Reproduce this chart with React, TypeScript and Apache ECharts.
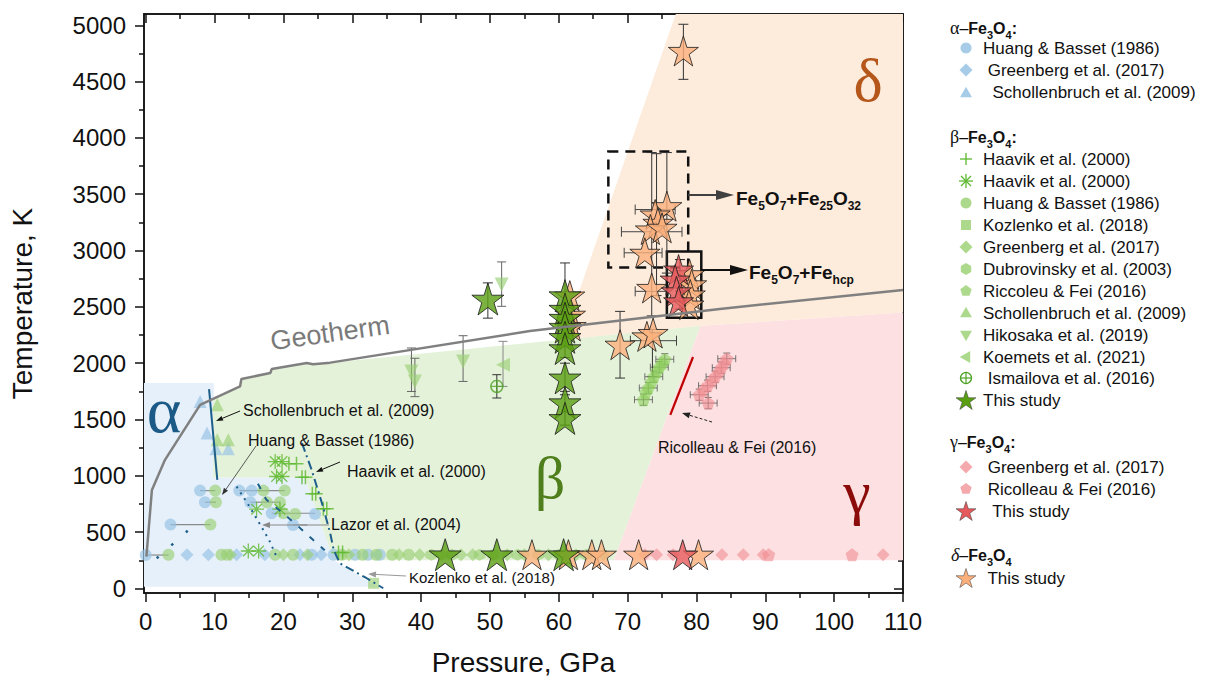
import React, { useEffect, useRef } from "react";
import * as echarts from "echarts";

// ---------------- ticks ----------------
const X_MAJOR = [0, 10, 20, 30, 40, 50, 60, 70, 80, 90, 100, 110];
const X_MINOR = [5, 15, 25, 35, 45, 55, 65, 75, 85, 95, 105];
const Y_MAJOR = [0, 500, 1000, 1500, 2000, 2500, 3000, 3500, 4000, 4500, 5000];
const Y_MINOR = [250, 750, 1250, 1750, 2250, 2750, 3250, 3750, 4250, 4750];

// ---------------- phase regions (P GPa, T K) ----------------
const ALPHA_REGION = [[-0.25, 15], [-0.25, 1824], [9.9, 1824], [9.9, 985], [23.1, 985], [27.3, 253], [33.6, 15]];
const BETA_REGION = [[9.8, 985], [9.8, 1684], [13.7, 1794], [13.9, 1860], [18.1, 1913], [18.3, 1948], [23.4, 2002], [24.3, 1990], [26.8, 2005], [80.6, 2332], [68.0, 250], [27.3, 250], [23.1, 985]];
const GAMMA_REGION = [[68.0, 250], [80.6, 2332], [110, 2450], [110, 250]];
const DELTA_REGION = [[60.5, 2209], [77.0, 5100], [110, 5100], [110, 2450], [80.6, 2332]];

// ---------------- lines ----------------
const GEOTHERM = [[0.1, 283], [0.9, 875], [2.8, 1142], [7.9, 1630], [13.7, 1794], [13.9, 1860], [18.1, 1913], [18.3, 1948], [23.4, 2002], [24.3, 1990], [26.8, 2005], [55.8, 2285], [83.4, 2482], [110, 2650]];
const SCHOLL_LINE = [[9.2, 1770], [10.4, 964]];
const HAAVIK_LINE = [[22.7, 1291], [24.1, 1053], [25.6, 757], [26.8, 491], [27.3, 343], [28.2, 224], [32.1, 91], [34.5, 2]];
const LAZOR_LINE = [[13.2, 905], [15.0, 735], [16.7, 560], [18.0, 420], [19.0, 283]];
const HUANG_LINE = [[16.3, 930], [17.5, 790], [20.3, 650], [22.0, 560], [24.3, 432], [26.0, 340]];
const SPARSE_LINE = [[1.6, 268], [7.6, 594]];
const RICOLLEAU_LINE = [[79.5, 2055], [76.2, 1542]];
// horizontal tie lines [Pmin, Pmax, T]
const TIE_LINES = [[0, 3.3, 297], [3.6, 9.4, 567], [7.9, 10.1, 869], [8.6, 10.2, 766], [13.6, 20.2, 869], [15.2, 19.5, 766], [18.3, 24.6, 668], [21.4, 23.5, 564]];

// ---------------- alpha ----------------
const HUANG_A = [[0, 297], [3.6, 567], [7.9, 869], [8.6, 766], [13.6, 869], [15.4, 869], [15.2, 766], [18.3, 668], [21.4, 564], [24.6, 662], [24.1, 300], [27.3, 300], [30.4, 300], [32.3, 300], [34.0, 300]];
const GREENBERG_A = [[6.0, 300], [9.1, 300], [13.2, 300], [17.3, 300], [22.4, 300], [25.5, 300]];
const SCHOLL_A = [[7.9, 1660], [8.9, 1380], [10.2, 1240], [12.0, 1240]];

// ---------------- beta ----------------
const HAAVIK_PLUS = [[20.8, 1107], [21.9, 1107], [22.7, 988], [23.2, 988], [24.2, 840], [24.7, 840], [25.8, 707], [26.3, 707], [28.0, 320], [28.6, 320]];
const HAAVIK_AST = [[18.8, 1127], [19.8, 1127], [19.0, 994], [19.8, 994], [16.1, 704], [19.5, 704], [14.9, 333], [16.4, 333]];
const HUANG_B = [[10.1, 869], [10.2, 766], [9.4, 567], [17.1, 869], [20.2, 869], [17.6, 766], [19.5, 766], [20.0, 668], [21.7, 662], [3.3, 300], [11.0, 300], [11.8, 300], [18.8, 300], [21.4, 300], [28.5, 300], [31.5, 300], [33.5, 300], [35.8, 300], [38.2, 300]];
const KOZLENKO_B = [[33.1, 46]];
const GREENBERG_B = [[12.3, 300], [20.0, 300], [23.5, 300], [29.5, 300], [36.8, 300], [39.8, 300], [43.0, 300], [45.8, 300], [47.5, 300], [52.5, 300], [55.0, 300], [58.5, 300], [62.5, 300], [66.5, 300]];
const DUBROV_B = [[41.5, 300], [44.5, 300], [48.5, 300], [50.5, 300], [54.0, 300], [57.0, 300], [60.0, 300], [64.0, 300]];
const RICOLLEAU_B = [[75.4, 2035], [75.0, 2000], [74.6, 1965], [74.2, 1925], [73.8, 1880], [73.4, 1830], [73.0, 1780], [72.6, 1740], [72.3, 1676]];
const SCHOLL_B = [[10.4, 1631], [10.4, 1320], [12.0, 1320]];
const HIKOSAKA_B = [[38.6, 1927], [39.1, 1838], [46.1, 2016], [51.7, 2698]];
const HIKOSAKA_ERR = [[38.6, 1749, 2135], [39.1, 1703, 2044], [46.1, 1838, 2244], [51.7, 2505, 2899]];
const KOEMETS_B = [[51.9, 1987]];
const KOEMETS_ERR = [[51.9, 1794, 2194]];
const ISMAILOVA_B = [[51.0, 1794]];
const ISMAILOVA_ERR = [[51.0, 1691, 1898]];
const STUDY_B = [[43.5, 300], [51.0, 300], [60.7, 300], [49.7, 2570], [60.9, 2600], [60.9, 2480], [60.9, 2400], [60.9, 2320], [60.9, 2230], [60.9, 2130], [60.9, 1870], [60.9, 1650], [60.9, 1510]];
const STUDY_B_ERR = [[49.7, 2400, 2713], [60.9, 2450, 2890], [60.9, 2050, 2350], [60.9, 1750, 2000], [60.9, 1450, 1720]];

// ---------------- gamma ----------------
const GREENBERG_G = [[72.5, 300], [74.2, 300], [76.6, 300], [83.7, 300], [86.8, 300], [89.7, 300], [107.1, 300]];
const RICOLLEAU_G = [[84.4, 2040], [84.0, 2000], [83.6, 1960], [83.2, 1920], [82.7, 1880], [82.2, 1840], [81.6, 1800], [81.0, 1760], [80.4, 1720], [81.7, 1646], [90.5, 300], [102.6, 300]];
const STUDY_G = [[77.4, 2831], [76.9, 2742], [77.1, 2638], [77.4, 2549], [78.0, 300]];
const STUDY_G_ERR = [[77.6, 2480, 2920]];

// ---------------- delta ----------------
const STUDY_D = [[56.1, 300], [61.4, 300], [64.8, 300], [66.2, 300], [71.6, 300], [80.3, 300], [78.1, 4772], [75.7, 3394], [74.0, 3320], [74.4, 3246], [73.3, 3187], [75.0, 3202], [72.5, 2980], [73.5, 2668], [72.8, 2238], [73.7, 2268], [68.9, 2164], [79.0, 2790], [79.3, 2700], [79.1, 2610], [78.9, 2520], [61.6, 2600], [61.7, 2430], [61.8, 2330]];
const STUDY_D_VERR = [[78.1, 4520, 5009], [73.5, 2420, 3870], [74.2, 2600, 3860], [75.7, 2800, 3870], [68.9, 1868, 2460], [73.6, 1880, 2300]];
const STUDY_D_HERR = [[69.1, 77.9, 3167], [71.1, 76.9, 3364], [69.5, 75.0, 2980], [71.1, 75.9, 2638], [70.4, 77.1, 2200]];

// Ricolleau error bars
const RIC_B_VERR = [[75.4, 1985, 2085], [74.6, 1915, 2015], [73.8, 1830, 1930], [73.0, 1730, 1830], [72.3, 1626, 1726]];
const RIC_B_HERR = [[74.1, 76.7, 2035], [73.3, 75.9, 1965], [72.5, 75.1, 1880], [71.7, 74.3, 1780], [71.0, 73.6, 1676]];
const RIC_G_VERR = [[84.4, 1990, 2090], [83.6, 1910, 2010], [82.7, 1830, 1930], [81.6, 1750, 1850], [80.4, 1670, 1770], [81.7, 1596, 1696]];
const RIC_G_HERR = [[83.1, 85.7, 2040], [82.3, 84.9, 1960], [81.4, 84.0, 1880], [80.3, 82.9, 1800], [79.1, 81.7, 1720], [80.4, 83.0, 1646]];

// boxes [Pmin, Tmin, Pmax, Tmax]
const DASHED_BOX = [67.2, 2849, 78.8, 3880];
const SOLID_BOX = [75.7, 2404, 80.7, 2991];

// ---------------- legend texts ----------------
const LEG_ALPHA = ["Huang & Basset (1986)", " Greenberg et al. (2017)", "  Schollenbruch et al. (2009)"];
const LEG_BETA = ["Haavik et al. (2000)", "Haavik et al. (2000)", "Huang & Basset (1986)", "Kozlenko et al. (2018)", "Greenberg et al. (2017)", "Dubrovinsky et al. (2003)", "Riccoleu & Fei (2016)", "Schollenbruch et al. (2009)", "Hikosaka et al. (2019)", "Koemets et al. (2021)", " Ismailova et al. (2016)", "This study"];
const LEG_GAMMA = [" Greenberg et al. (2017)", " Ricolleau & Fei (2016)", "  This study"];
const LEG_DELTA = [" This study"];

// ---------------- styling ----------------
const SANS = '"Liberation Sans", Arial, sans-serif';
const SERIF = '"Liberation Serif", "Times New Roman", serif';
const C_A = "rgba(150,195,228,0.85)";
const C_B = "rgba(152,207,112,0.8)";
const C_BDARK = "#5cb82e";
const C_G = "rgba(240,140,145,0.75)";
const C_STAR_B = "#5a9f12";
const C_STAR_G = "#e65a5c";
const C_STAR_D = "#fbb07c";

const STAR_UNIT = [[0, -1], [0.2245, -0.309], [0.951, -0.309], [0.3633, 0.118], [0.5878, 0.809], [0, 0.382], [-0.5878, 0.809], [-0.3633, 0.118], [-0.951, -0.309], [-0.2245, -0.309]];
const PENT_UNIT = [[0, -1], [0.951, -0.309], [0.5878, 0.809], [-0.5878, 0.809], [-0.951, -0.309]];
const HEX_UNIT = [[0, -1], [0.866, -0.5], [0.866, 0.5], [0, 1], [-0.866, 0.5], [-0.866, -0.5]];

function unitPath(u: number[][]) {
  return "path://" + u.map((p, i) => (i ? "L" : "M") + (50 + 50 * p[0]).toFixed(2) + "," + (50 + 50 * p[1]).toFixed(2)).join(" ") + " Z";
}
const STAR = unitPath(STAR_UNIT);
const PENTAGON = unitPath(PENT_UNIT);
const HEXAGON = unitPath(HEX_UNIT);
const PLUS = "path://M50,0 L50,100 M0,50 L100,50";
const ASTER = "path://M50,0 L50,100 M0,50 L100,50 M15,15 L85,85 M85,15 L15,85";
const CIRCLE_PLUS = "path://M50,5 A45,45 0 1 1 49.9,5 Z M50,5 L50,95 M5,50 L95,50";

function scatter(name: string, data: number[][], symbol: string, size: number, itemStyle: any, extra: any = {}) {
  return { type: "scatter", name, data, symbol, symbolSize: size, itemStyle, silent: true, ...extra };
}
function lineSeries(name: string, data: number[][], color: string, width: number, type: any) {
  return { type: "line", name, data, symbol: "none", lineStyle: { color, width, type }, silent: true, clip: true };
}
function region(name: string, pts: number[][], fill: string) {
  return {
    type: "custom", name, data: [[0, 0]], silent: true, clip: true,
    renderItem: (_p: any, api: any) => ({ type: "polygon", shape: { points: pts.map((p) => api.coord(p)) }, style: { fill } }),
  };
}
function box(name: string, b: number[], dash: any) {
  return {
    type: "custom", name, data: [[b[0], b[1], b[2], b[3]]], silent: true,
    renderItem: (_p: any, api: any) => {
      const a = api.coord([api.value(0), api.value(1)]);
      const c = api.coord([api.value(2), api.value(3)]);
      return { type: "rect", shape: { x: a[0], y: c[1], width: c[0] - a[0], height: a[1] - c[1] }, style: { fill: "none", stroke: "#111", lineWidth: 2.5, lineDash: dash } };
    },
  };
}
function vBars(name: string, data: number[][], color: string, width = 1, cap = 9) {
  return {
    type: "custom", name, data, silent: true, encode: { x: 0, y: [1, 2] },
    renderItem: (_p: any, api: any) => {
      const x = api.value(0);
      const a = api.coord([x, api.value(1)]);
      const b = api.coord([x, api.value(2)]);
      const st = { stroke: color, lineWidth: width, fill: "none" };
      return {
        type: "group", children: [
          { type: "line", shape: { x1: a[0], y1: a[1], x2: b[0], y2: b[1] }, style: st },
          { type: "line", shape: { x1: a[0] - cap / 2, y1: a[1], x2: a[0] + cap / 2, y2: a[1] }, style: st },
          { type: "line", shape: { x1: b[0] - cap / 2, y1: b[1], x2: b[0] + cap / 2, y2: b[1] }, style: st },
        ],
      };
    },
  };
}
function hBars(name: string, data: number[][], color: string, width = 1, cap = 9) {
  return {
    type: "custom", name, data, silent: true, encode: { x: [0, 1], y: 2 },
    renderItem: (_p: any, api: any) => {
      const y = api.value(2);
      const a = api.coord([api.value(0), y]);
      const b = api.coord([api.value(1), y]);
      const st = { stroke: color, lineWidth: width, fill: "none" };
      const ch: any[] = [{ type: "line", shape: { x1: a[0], y1: a[1], x2: b[0], y2: b[1] }, style: st }];
      if (cap > 0) {
        ch.push({ type: "line", shape: { x1: a[0], y1: a[1] - cap / 2, x2: a[0], y2: a[1] + cap / 2 }, style: st });
        ch.push({ type: "line", shape: { x1: b[0], y1: b[1] - cap / 2, x2: b[0], y2: b[1] + cap / 2 }, style: st });
      }
      return { type: "group", children: ch };
    },
  };
}

// ---------------- graphic helpers ----------------
function arrow(x1: number, y1: number, x2: number, y2: number, color: string, lw: number, hl: number, hw: number, dash?: number[]) {
  const dx = x2 - x1, dy = y2 - y1;
  const L = Math.hypot(dx, dy);
  const ux = dx / L, uy = dy / L;
  const bx = x2 - ux * hl, by = y2 - uy * hl;
  return [
    { type: "line", z: 100, shape: { x1, y1, x2: bx, y2: by }, style: { stroke: color, lineWidth: lw, lineDash: dash } },
    { type: "polygon", z: 100, shape: { points: [[x2, y2], [bx - (uy * hw) / 2, by + (ux * hw) / 2], [bx + (uy * hw) / 2, by - (ux * hw) / 2]] }, style: { fill: color } },
  ];
}
function txt(x: number, y: number, text: string, size: number, extra: any = {}) {
  return { type: "text", z: 100, x, y, style: { text, fontSize: size, fontFamily: SANS, fill: "#111", verticalAlign: "middle", align: "left", ...extra } };
}
function poly(cx: number, cy: number, r: number, unit: number[][], style: any) {
  return { type: "polygon", z: 100, shape: { points: unit.map((p) => [cx + r * p[0], cy + r * p[1]]) }, style };
}
function header(x: number, y: number, greek: string, colon: string, italic = false) {
  return {
    type: "text", z: 100, x, y,
    style: {
      text: `{g|${greek}}{n|–}{b|Fe}{s|3}{b|O}{s|4}{b|${colon}}`,
      verticalAlign: "middle", align: "left", fill: "#111",
      rich: {
        g: { fontFamily: SERIF, fontSize: 18, lineHeight: 24, fontStyle: italic ? "italic" : "normal" },
        n: { fontFamily: SANS, fontSize: 16, lineHeight: 24 },
        b: { fontFamily: SANS, fontSize: 16, fontWeight: "bold", lineHeight: 24 },
        s: { fontFamily: SANS, fontSize: 11, fontWeight: "bold", lineHeight: 12, verticalAlign: "bottom" },
      },
    },
  };
}
function feLabel(x: number, y: number, parts: string) {
  return {
    type: "text", z: 100, x, y,
    style: {
      text: parts, verticalAlign: "middle", align: "left", fill: "#111",
      rich: {
        b: { fontFamily: SANS, fontSize: 19, fontWeight: "bold", lineHeight: 28 },
        s: { fontFamily: SANS, fontSize: 12, fontWeight: "bold", lineHeight: 13, verticalAlign: "bottom" },
      },
    },
  };
}

function buildGraphic() {
  const g: any[] = [];
  // greek phase labels
  g.push({ type: "text", z: 100, x: 164, y: 409, style: { text: "α", fontFamily: SERIF, fontSize: 66, fill: "#1b5a86", align: "center", verticalAlign: "middle" } });
  g.push({ type: "text", z: 100, x: 550, y: 478, style: { text: "β", fontFamily: SERIF, fontSize: 60, fill: "#4e7f1c", align: "center", verticalAlign: "middle" } });
  g.push({ type: "text", z: 100, x: 857, y: 492, style: { text: "γ", fontFamily: SERIF, fontSize: 62, fill: "#8b0a0a", align: "center", verticalAlign: "middle" } });
  g.push({ type: "text", z: 100, x: 868, y: 80, style: { text: "δ", fontFamily: SERIF, fontSize: 62, fill: "#b5561a", align: "center", verticalAlign: "middle" } });
  // geotherm
  g.push({ type: "text", z: 100, x: 330, y: 333, rotation: (8 * Math.PI) / 180, style: { text: "Geotherm", fontFamily: SANS, fontSize: 27, fill: "#7a7a7a", align: "center", verticalAlign: "middle" } });
  // annotations
  g.push(txt(243, 410, "Schollenbruch et al. (2009)", 16));
  g.push(...arrow(240, 411, 216, 421, "#111", 1, 7, 5));
  g.push(txt(248, 440, "Huang & Basset (1986)", 16));
  g.push(...arrow(256, 446, 222, 495, "#333", 0.8, 7, 5));
  g.push(txt(347, 471, "Haavik et al. (2000)", 16));
  g.push(...arrow(340, 462, 316, 472, "#111", 1, 7, 5));
  g.push(txt(331, 524, "Lazor et al. (2004)", 16));
  g.push(...arrow(329, 525, 262, 525, "#888", 1, 8, 6));
  g.push(txt(409, 577, "Kozlenko et al. (2018)", 15));
  g.push(...arrow(406, 576, 368, 574, "#999", 1, 8, 6));
  g.push(txt(658, 447, "Ricolleau & Fei (2016)", 16));
  g.push(...arrow(712, 422, 682, 413, "#222", 1, 8, 6, [3, 2]));
  g.push(feLabel(736, 198, "{b|Fe}{s|5}{b|O}{s|7}{b|+Fe}{s|25}{b|O}{s|32}"));
  g.push(...arrow(688, 195, 734, 195, "#404040", 2, 18, 10));
  g.push(feLabel(749, 272, "{b|Fe}{s|5}{b|O}{s|7}{b|+Fe}{s|hcp}"));
  g.push(...arrow(701, 270, 748, 270, "#111", 2, 18, 10));

  // ---------- legend ----------
  const mx = 966;
  const tx = 983;
  const ls = 17;
  // alpha
  g.push(header(950, 28, "α", ":"));
  g.push({ type: "circle", z: 100, shape: { cx: mx, cy: 48, r: 5.5 }, style: { fill: C_A } });
  g.push(poly(mx, 70, 6.5, [[0, -1], [1, 0], [0, 1], [-1, 0]], { fill: C_A }));
  g.push(poly(mx, 93, 7, [[0, -0.9], [0.85, 0.6], [-0.85, 0.6]], { fill: C_A }));
  g.push(txt(tx, 48, LEG_ALPHA[0], ls));
  g.push(txt(tx, 70, LEG_ALPHA[1], ls));
  g.push(txt(tx, 92, LEG_ALPHA[2], ls));
  // beta
  g.push(header(950, 137, "β", ":"));
  const by = [159, 181, 203, 225, 247, 269, 291, 313, 335, 357, 378, 400];
  const bst = { stroke: C_BDARK, lineWidth: 1.3 };
  g.push({ type: "line", z: 100, shape: { x1: mx - 6, y1: by[0], x2: mx + 6, y2: by[0] }, style: bst });
  g.push({ type: "line", z: 100, shape: { x1: mx, y1: by[0] - 6, x2: mx, y2: by[0] + 6 }, style: bst });
  [[-7, 0, 7, 0], [0, -7, 0, 7], [-5, -5, 5, 5], [5, -5, -5, 5]].forEach((s) =>
    g.push({ type: "line", z: 100, shape: { x1: mx + s[0], y1: by[1] + s[1], x2: mx + s[2], y2: by[1] + s[3] }, style: bst })
  );
  g.push({ type: "circle", z: 100, shape: { cx: mx, cy: by[2], r: 5.5 }, style: { fill: C_B } });
  g.push({ type: "rect", z: 100, shape: { x: mx - 5, y: by[3] - 5, width: 10, height: 10 }, style: { fill: C_B } });
  g.push(poly(mx, by[4], 6.5, [[0, -1], [1, 0], [0, 1], [-1, 0]], { fill: C_B }));
  g.push(poly(mx, by[5], 6, HEX_UNIT, { fill: C_B }));
  g.push(poly(mx, by[6], 6, PENT_UNIT, { fill: C_B }));
  g.push(poly(mx, by[7], 7, [[0, -0.9], [0.85, 0.6], [-0.85, 0.6]], { fill: C_B }));
  g.push(poly(mx, by[8], 7, [[0, 0.9], [0.85, -0.6], [-0.85, -0.6]], { fill: C_B }));
  g.push(poly(mx, by[9], 7, [[-0.9, 0], [0.6, -0.85], [0.6, 0.85]], { fill: C_B }));
  g.push({ type: "circle", z: 100, shape: { cx: mx, cy: by[10], r: 5.5 }, style: { fill: "none", stroke: "#4fa226", lineWidth: 1.3 } });
  g.push({ type: "line", z: 100, shape: { x1: mx - 5.5, y1: by[10], x2: mx + 5.5, y2: by[10] }, style: { stroke: "#4fa226", lineWidth: 1.2 } });
  g.push({ type: "line", z: 100, shape: { x1: mx, y1: by[10] - 5.5, x2: mx, y2: by[10] + 5.5 }, style: { stroke: "#4fa226", lineWidth: 1.2 } });
  g.push(poly(mx, by[11] + 1, 10.5, STAR_UNIT, { fill: C_STAR_B, stroke: "#333", lineWidth: 0.5 }));
  LEG_BETA.forEach((t, i) => g.push(txt(tx, by[i], t, ls)));
  // gamma
  g.push(header(950, 442, "γ", ":"));
  g.push(poly(mx, 467, 6.5, [[0, -1], [1, 0], [0, 1], [-1, 0]], { fill: C_G }));
  g.push(poly(mx, 489, 6, PENT_UNIT, { fill: C_G }));
  g.push(poly(mx, 512, 10.5, STAR_UNIT, { fill: C_STAR_G, stroke: "#333", lineWidth: 0.5 }));
  g.push(txt(tx, 467, LEG_GAMMA[0], ls));
  g.push(txt(tx, 489, LEG_GAMMA[1], ls));
  g.push(txt(tx, 511, LEG_GAMMA[2], ls));
  // delta
  g.push(header(951, 555, "δ", "", true));
  g.push(poly(mx, 579, 10.5, STAR_UNIT, { fill: C_STAR_D, stroke: "#333", lineWidth: 0.5 }));
  g.push(txt(tx, 578, LEG_DELTA[0], ls));
  return g;
}

function plain(v: number) {
  return String(v);
}

function buildOption() {
  const axisLine = { show: true, onZero: false, lineStyle: { color: "#111", width: 1.5 } };
  const tickStyle = { color: "#111", width: 1.5 };
  const xBase = { type: "value", min: -0.25, max: 110, splitLine: { show: false }, axisLine };
  const yBase = { type: "value", min: -40, max: 5100, splitLine: { show: false }, axisLine };
  const star = { borderColor: "#1a1a1a", borderWidth: 1 };
  return {
    animation: false,
    backgroundColor: "#ffffff",
    grid: { left: 144, right: 303, top: 14, bottom: 88, containLabel: false },
    xAxis: [
      {
        ...xBase, position: "bottom",
        axisTick: { show: true, inside: false, length: 9, customValues: X_MAJOR, lineStyle: tickStyle },
        axisLabel: { show: true, customValues: X_MAJOR, fontSize: 24, color: "#111", fontFamily: SANS, margin: 16, formatter: plain },
        name: "Pressure, GPa", nameLocation: "middle", nameGap: 55,
        nameTextStyle: { fontSize: 28, color: "#111", fontFamily: SANS },
      },
      { ...xBase, position: "bottom", axisTick: { show: true, inside: false, length: 5, customValues: X_MINOR, lineStyle: tickStyle }, axisLabel: { show: false } },
      { ...xBase, position: "top", axisTick: { show: true, inside: true, length: 9, customValues: X_MAJOR, lineStyle: tickStyle }, axisLabel: { show: false } },
      { ...xBase, position: "top", axisTick: { show: true, inside: true, length: 5, customValues: X_MINOR, lineStyle: tickStyle }, axisLabel: { show: false } },
    ],
    yAxis: [
      {
        ...yBase, position: "left",
        axisTick: { show: true, inside: false, length: 9, customValues: Y_MAJOR, lineStyle: tickStyle },
        axisLabel: { show: true, customValues: Y_MAJOR, fontSize: 24, color: "#111", fontFamily: SANS, margin: 18, formatter: plain },
        name: "Temperature, K", nameLocation: "middle", nameGap: 108,
        nameTextStyle: { fontSize: 28, color: "#111", fontFamily: SANS },
      },
      { ...yBase, position: "left", axisTick: { show: true, inside: false, length: 5, customValues: Y_MINOR, lineStyle: tickStyle }, axisLabel: { show: false } },
      { ...yBase, position: "right", axisTick: { show: true, inside: true, length: 9, customValues: Y_MAJOR, lineStyle: tickStyle }, axisLabel: { show: false } },
      { ...yBase, position: "right", axisTick: { show: true, inside: true, length: 5, customValues: Y_MINOR, lineStyle: tickStyle }, axisLabel: { show: false } },
    ],
    series: [
      region("alpha field", ALPHA_REGION, "#e6f0fa"),
      region("beta field", BETA_REGION, "#e5f2da"),
      region("gamma field", GAMMA_REGION, "#fde0e1"),
      region("delta field", DELTA_REGION, "#fdebdb"),
      hBars("tie lines", TIE_LINES, "#8a8a8a", 1.2, 0),
      lineSeries("Schollenbruch boundary", SCHOLL_LINE, "#1d5f8a", 2, "solid"),
      lineSeries("Haavik boundary", HAAVIK_LINE, "#1d5f8a", 2, [9, 4, 2, 4]),
      lineSeries("Lazor boundary", LAZOR_LINE, "#1d5f8a", 2, [2, 5]),
      lineSeries("Huang boundary", HUANG_LINE, "#1d5f8a", 2, [6, 9]),
      lineSeries("Huang dots", SPARSE_LINE, "#1d5f8a", 2.5, [2.5, 17]),
      lineSeries("Ricolleau boundary", RICOLLEAU_LINE, "#c00000", 2.2, "solid"),
      lineSeries("Geotherm", GEOTHERM, "#808080", 2.5, "solid"),
      // alpha data
      scatter("α Huang & Basset (1986)", HUANG_A, "circle", 12, { color: C_A }),
      scatter("α Greenberg et al. (2017)", GREENBERG_A, "diamond", 13, { color: C_A }),
      scatter("α Schollenbruch et al. (2009)", SCHOLL_A, "triangle", 13, { color: C_A }),
      // beta data
      scatter("β Greenberg et al. (2017)", GREENBERG_B, "diamond", 13, { color: C_B }),
      scatter("β Huang & Basset (1986)", HUANG_B, "circle", 12, { color: C_B }),
      scatter("β Dubrovinsky et al. (2003)", DUBROV_B, HEXAGON, 12, { color: C_B }),
      scatter("β Kozlenko et al. (2018)", KOZLENKO_B, "rect", 11, { color: C_B }),
      scatter("β Schollenbruch et al. (2009)", SCHOLL_B, "triangle", 13, { color: C_B }),
      scatter("β Haavik et al. (2000) +", HAAVIK_PLUS, PLUS, 14, { color: "rgba(0,0,0,0)", borderColor: C_BDARK, borderWidth: 1.5 }),
      scatter("β Haavik et al. (2000) *", HAAVIK_AST, ASTER, 15, { color: "rgba(0,0,0,0)", borderColor: C_BDARK, borderWidth: 1.3 }),
      vBars("Hikosaka err", HIKOSAKA_ERR, "#666", 1, 9),
      vBars("Koemets err", KOEMETS_ERR, "#888", 1, 9),
      vBars("Ismailova err", ISMAILOVA_ERR, "#333", 1, 9),
      scatter("β Hikosaka et al. (2019)", HIKOSAKA_B, "triangle", 14, { color: C_B }, { symbolRotate: 180 }),
      scatter("β Koemets et al. (2021)", KOEMETS_B, "triangle", 14, { color: C_B }, { symbolRotate: 90 }),
      scatter("β Ismailova et al. (2016)", ISMAILOVA_B, CIRCLE_PLUS, 12, { color: "rgba(0,0,0,0)", borderColor: "#4fa226", borderWidth: 1.4 }),
      vBars("Ricolleau β verr", RIC_B_VERR, "#555", 0.8, 7),
      hBars("Ricolleau β herr", RIC_B_HERR, "#555", 0.8, 7),
      scatter("β Riccoleu & Fei (2016)", RICOLLEAU_B, PENTAGON, 13, { color: "rgba(140,205,90,0.75)" }),
      // gamma
      scatter("γ Greenberg et al. (2017)", GREENBERG_G, "diamond", 13, { color: C_G }),
      vBars("Ricolleau γ verr", RIC_G_VERR, "#555", 0.8, 7),
      hBars("Ricolleau γ herr", RIC_G_HERR, "#555", 0.8, 7),
      scatter("γ Ricolleau & Fei (2016)", RICOLLEAU_G, PENTAGON, 13, { color: C_G }),
      // boxes
      box("Fe5O7+Fe25O32 box", DASHED_BOX, [10, 7]),
      box("Fe5O7+Fehcp box", SOLID_BOX, "solid"),
      // stars
      vBars("δ verr", STUDY_D_VERR, "#333", 1, 10),
      hBars("δ herr", STUDY_D_HERR, "#444", 1, 10),
      vBars("β study err", STUDY_B_ERR, "#333", 1, 10),
      vBars("γ study err", STUDY_G_ERR, "#222", 1, 10),
      scatter("δ This study", STUDY_D, STAR, 30, { color: C_STAR_D, ...star }),
      scatter("γ This study", STUDY_G, STAR, 30, { color: C_STAR_G, ...star }),
      scatter("β This study", STUDY_B, STAR, 32, { color: C_STAR_B, ...star }),
    ],
    graphic: buildGraphic(),
  };
}

export default function App() {
  const ref = useRef<HTMLDivElement>(null);
  useEffect(() => {
    document.body.style.margin = "0";
    const chart = echarts.init(ref.current as HTMLDivElement, null, { renderer: "svg" });
    chart.setOption(buildOption() as any);
    return () => chart.dispose();
  }, []);
  return <div ref={ref} style={{ position: "absolute", left: 0, top: 0, width: 1206, height: 681, background: "#fff" }} />;
}
